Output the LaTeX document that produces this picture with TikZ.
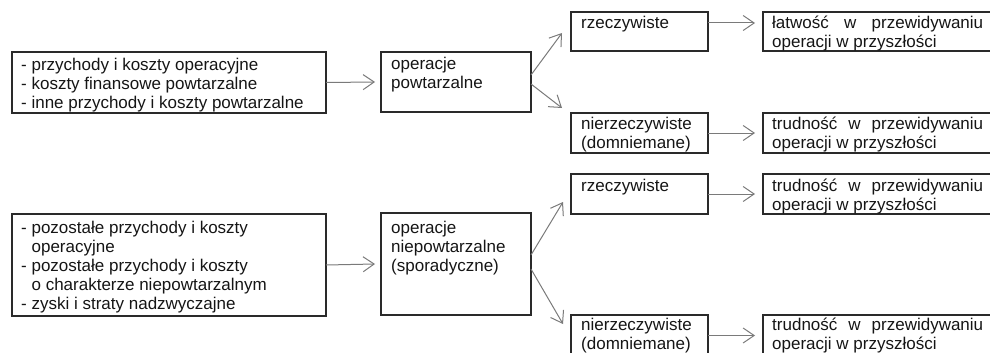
\documentclass[tikz,border=0pt]{standalone}
\usepackage{fontspec}
\setmainfont{Liberation Sans}
\usetikzlibrary{arrows.meta,calc}
\definecolor{boxc}{HTML}{2A2A2A}
\definecolor{arrc}{HTML}{7A7A7A}
\definecolor{txtc}{HTML}{151515}
\newcommand{\fs}{\fontsize{17pt}{19pt}\selectfont}
\newcommand{\fl}{\rule{0pt}{13pt}}
\newcommand{\ind}{\hspace*{10.4pt}}
\begin{document}
\begin{tikzpicture}[x=1pt,y=-1pt,
  box/.style={draw=boxc, line width=1.2pt, anchor=north west, inner sep=0pt, outer sep=0pt},
  arr/.style={draw=arrc, line width=1pt, -{Straight Barb[length=11pt,width=15pt,line width=1pt]}},
  txt/.style={inner sep=0pt, anchor=north west, align=left, font=\fs, text=txtc}]
\useasboundingbox (0,0) rectangle (990,353);
\clip (0,0) rectangle (990,353);

% boxes (top row)
\node[box, minimum width=314pt, minimum height=61pt] (a1) at (12,52) {};
\node[box, minimum width=150pt, minimum height=60pt] (b1) at (381,52) {};
\node[box, minimum width=137pt, minimum height=39pt] (c1) at (571,12) {};
\node[box, minimum width=137pt, minimum height=40pt] (c2) at (571,113) {};
\node[box, minimum width=240pt, minimum height=39pt] (d1) at (763,12) {};
\node[box, minimum width=240pt, minimum height=40pt] (d2) at (763,113) {};
% boxes (bottom row)
\node[box, minimum width=314pt, minimum height=102pt] (a2) at (12,214) {};
\node[box, minimum width=150pt, minimum height=102pt] (b2) at (381,213) {};
\node[box, minimum width=137pt, minimum height=40pt] (c3) at (571,174) {};
\node[box, minimum width=137pt, minimum height=41pt] (c4) at (571,315) {};
\node[box, minimum width=240pt, minimum height=40pt] (d3) at (763,174) {};
\node[box, minimum width=240pt, minimum height=41pt] (d4) at (763,315) {};

% texts
\node[txt] (ta1) at (21,57.5) {\fl- przychody i koszty operacyjne\\- koszty finansowe powtarzalne\\- inne przychody i koszty powtarzalne};
\node[txt] (tb1) at (391,56.5) {\fl operacje\\powtarzalne};
\node[txt] (tc1) at (581,15.5) {\fl rzeczywiste};
\node[txt] (tc2) at (581,116) {\fl nierzeczywiste\\(domniemane)};
\node[txt] (td1) at (772,15.5) {\fl\hbox to 211pt{łatwość\hfill w\hfill przewidywaniu}\\operacji w przyszłości};
\node[txt] (td2) at (772,116) {\fl\hbox to 211pt{trudność\hfill w\hfill przewidywaniu}\\operacji w przyszłości};
\node[txt] (ta2) at (21,220.5) {\fl- pozostałe przychody i koszty\\\ind operacyjne\\- pozostałe przychody i koszty\\\ind o charakterze niepowtarzalnym\\- zyski i straty nadzwyczajne};
\node[txt] (tb2) at (391,220.5) {\fl operacje\\niepowtarzalne\\(sporadyczne)};
\node[txt] (tc3) at (581,178.5) {\fl rzeczywiste};
\node[txt] (tc4) at (581,317.5) {\fl nierzeczywiste\\(domniemane)};
\node[txt] (td3) at (772,178.5) {\fl\hbox to 211pt{trudność\hfill w\hfill przewidywaniu}\\operacji w przyszłości};
\node[txt] (td4) at (772,317.5) {\fl\hbox to 211pt{trudność\hfill w\hfill przewidywaniu}\\operacji w przyszłości};

% connectors
\draw[arr] (a1.east) -- ([xshift=-6pt]b1.west);
\draw[arr] ([yshift=7pt]b1.east) -- ($(c1.west)+(-9,1.5)$);
\draw[arr] ([yshift=-2pt]b1.east) -- ($(c2.west)+(-9,-25)$);
\draw[arr] ([yshift=8.5pt]c1.east) -- ([yshift=8.5pt,xshift=-8pt]d1.west);
\draw[arr] (c2.east) -- ([xshift=-8pt]d2.west);

\draw[arr] (a2.east) -- ([xshift=-6pt]b2.west);
\draw[arr] ([yshift=9pt]b2.east) -- ($(c3.west)+(-8,8)$);
\draw[arr] ([yshift=-5pt]b2.east) -- ($(c4.west)+(-8,-11.5)$);
\draw[arr] (c3.east) -- ([xshift=-8pt]d3.west);
\draw[arr] (c4.east) -- ([xshift=-8pt]d4.west);
\end{tikzpicture}
\end{document}
